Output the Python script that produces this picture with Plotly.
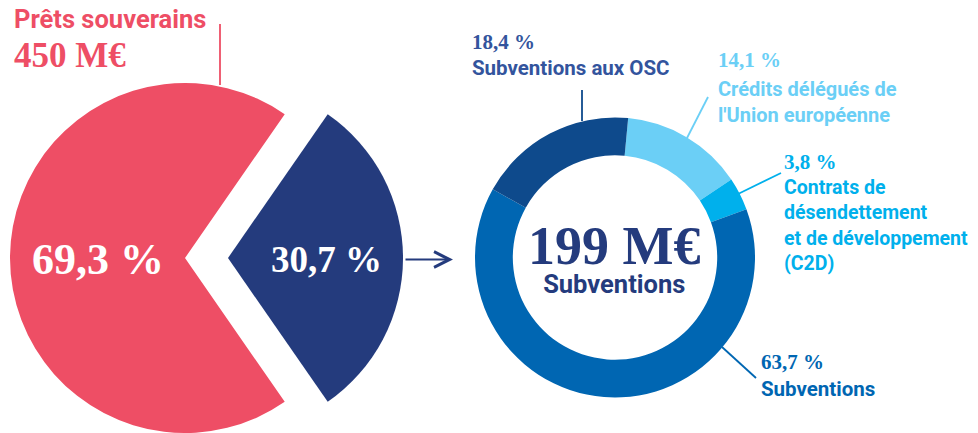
import plotly.graph_objects as go

W, H = 978, 433

# ---- data ----
left_labels = ["Subventions", "Prêts souverains"]
left_values = [30.7, 69.3]
left_colors = ["#243B7D", "#EE4E65"]
prets_total = 450  # M€

donut_labels = ["Crédits délégués de<br>l'Union européenne",
                "Contrats de<br>désendettement<br>et de développement<br>(C2D)",
                "Subventions",
                "Subventions aux OSC"]
donut_values = [14.1, 3.8, 63.7, 18.4]
donut_colors = ["#6BCFF6", "#00B0EC", "#0066B2", "#0E4A8C"]
donut_text_colors = ["#6BCFF6", "#00B0EC", "#0066B2", "#33549D"]
subv_total = 199  # M€

SERIF = "Liberation Serif"
SANS = "Roboto"
TRANSP = "rgba(0,0,0,0)"


def pct(v):
    return f"{v:.1f}".replace(".", ",") + " %"


def dom(cx, cy, r):
    return dict(x=[(cx - r) / W, (cx + r) / W], y=[(H - cy - r) / H, (H - cy + r) / H])


def px(x):
    return x / W


def py(y):
    return 1 - y / H


fig = go.Figure()

rot_left = 90 - 360 * left_values[0] / sum(left_values) / 2

# pink part (main pie)
fig.add_trace(go.Pie(
    labels=left_labels, values=left_values, sort=False, direction="clockwise",
    rotation=rot_left, domain=dom(185, 258, 175), textinfo="none", hoverinfo="skip",
    marker=dict(colors=[TRANSP, left_colors[1]], line=dict(width=0)), showlegend=False))
# navy part (pulled-out slice)
fig.add_trace(go.Pie(
    labels=left_labels, values=left_values, sort=False, direction="clockwise",
    rotation=rot_left, domain=dom(228, 258, 175), textinfo="none", hoverinfo="skip",
    marker=dict(colors=[left_colors[0], TRANSP], line=dict(width=0)), showlegend=False))

# donut
fig.add_trace(go.Pie(
    labels=[l.replace("<br>", " ") for l in donut_labels], values=donut_values, sort=False,
    direction="clockwise", rotation=5.4, hole=0.73, domain=dom(615, 257.5, 140),
    textinfo="none", hoverinfo="skip",
    marker=dict(colors=donut_colors, line=dict(width=0)), showlegend=False))

ann = []


def text(x, y, s, size, color, family, xanchor="left", yanchor="middle", align="left"):
    ann.append(dict(x=px(x), y=py(y), xref="paper", yref="paper", text=s, showarrow=False,
                    xanchor=xanchor, yanchor=yanchor, align=align, borderpad=0,
                    font=dict(size=size, color=color, family=family)))


# left pie texts
text(13, 19, "<b>" + left_labels[1] + "</b>", 25.5, left_colors[1], SANS)
text(13, 56, f"<b>{prets_total} M€</b>", 35, left_colors[1], SERIF)
text(98, 259, "<b>" + pct(left_values[1]) + "</b>", 44, "white", SERIF, "center")
text(326, 259, "<b>" + pct(left_values[0]) + "</b>", 37, "white", SERIF, "center")

# donut center (one block: amount + caption)
center_txt = (f"<span style='font-family:{SERIF};font-size:54px'><b>{subv_total} M€</b></span>"
              f"<br><span style='font-family:{SANS};font-size:25.5px'><b>Subventions</b></span>")
text(614, 257, center_txt, 22.5, "#243B7D", SANS, "center", "middle", "center")

# donut labels
# OSC
text(471, 42, "<b>" + pct(donut_values[3]) + "</b>", 21, donut_text_colors[3], SERIF)
text(471, 68, "<b>" + donut_labels[3] + "</b>", 20.5, donut_text_colors[3], SANS)
# UE
text(717, 60, "<b>" + pct(donut_values[0]) + "</b>", 21, donut_text_colors[0], SERIF)
text(717, 76, "<b>" + donut_labels[0] + "</b>", 20, donut_text_colors[0], SANS, yanchor="top")
# C2D
text(783, 162, "<b>" + pct(donut_values[1]) + "</b>", 21, donut_text_colors[1], SERIF)
text(783, 175, "<b>" + donut_labels[1] + "</b>", 19.5, donut_text_colors[1], SANS, yanchor="top")
# Subventions
text(760, 362, "<b>" + pct(donut_values[2]) + "</b>", 21, donut_text_colors[2], SERIF)
text(760, 389, "<b>" + donut_labels[2] + "</b>", 20.5, donut_text_colors[2], SANS)

# arrow between charts
ann.append(dict(x=px(453), y=py(259.5), xref="paper", yref="paper", ax=-49, ay=0,
                axref="pixel", ayref="pixel", text="", showarrow=True, arrowhead=5,
                arrowsize=1.7, arrowwidth=1.8, arrowcolor="#243B7D"))

shapes = []


def seg(x0, y0, x1, y1, color):
    shapes.append(dict(type="line", xref="paper", yref="paper", x0=px(x0), y0=py(y0),
                       x1=px(x1), y1=py(y1), line=dict(color=color, width=1.8)))


seg(220, 24, 220, 85, left_colors[1])
seg(582, 90, 582, 121, donut_colors[3])
seg(708, 97, 687, 138, donut_colors[0])
seg(781, 173, 738, 194, donut_colors[1])
seg(722, 347, 756, 378, donut_colors[2])

fig.update_layout(width=W, height=H, margin=dict(l=0, r=0, t=0, b=0),
                  paper_bgcolor="white", plot_bgcolor="white",
                  annotations=ann, shapes=shapes)

fig.write_html("out.html", config={"displayModeBar": False},
               post_script="document.body.style.margin='0';")
